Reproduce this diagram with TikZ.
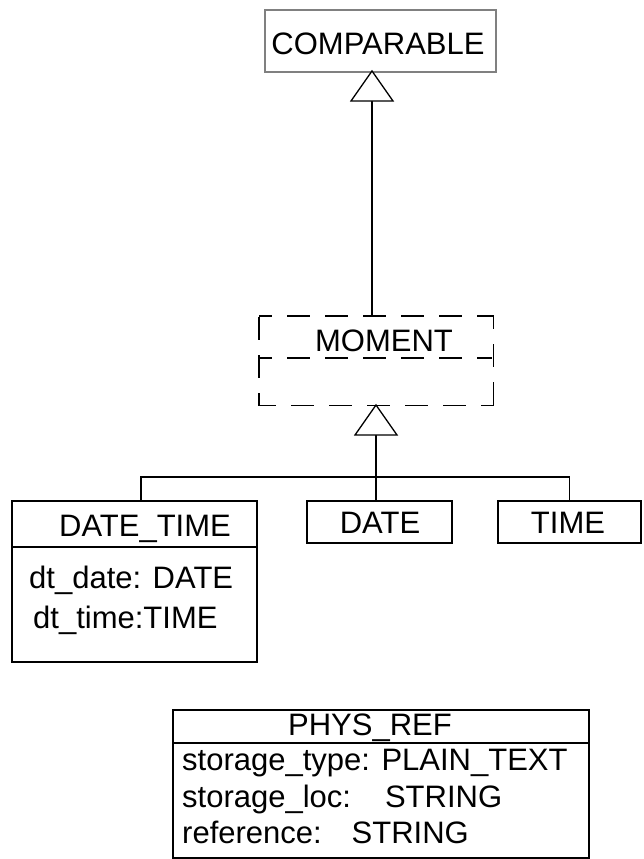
\documentclass[tikz,border=0pt]{standalone}
\usepackage{fontspec}
\setmainfont{Liberation Sans}
\definecolor{bordergray}{gray}{0.5}
\tikzset{
  box/.style={draw, line width=1.6pt, inner sep=0pt, anchor=north west},
  lbl/.style={font=\fontsize{31}{37}\selectfont, inner sep=0pt, anchor=base},
  lbll/.style={font=\fontsize{31}{37}\selectfont, inner sep=0pt, anchor=base west},
  conn/.style={line width=1.6pt},
  gen/.style={draw, line width=1.3pt, fill=white, line join=miter},
  dashbox/.style={line width=1.6pt, dash pattern=on 23pt off 15pt},
}
\begin{document}
\begin{tikzpicture}[x=1pt,y=-1pt]
\useasboundingbox (0,0) rectangle (644,859);

% COMPARABLE
\node[box, draw=bordergray, minimum width=231pt, minimum height=62pt] (cmp) at (264,9) {};
\node[lbl] (cmpt) at (378,55) {COMPARABLE};

% MOMENT (dashed)
\node[box, draw=none, minimum width=233pt, minimum height=88pt] (mom) at (259,316) {};
\draw[dashbox, dash phase=10pt] (mom.north west) -- (mom.north east);
\draw[dashbox, dash phase=10pt] (mom.north east) -- (mom.south east);
\draw[dashbox, dash phase=10pt] (mom.south east) -- (mom.south west);
\draw[dashbox, dash phase=10pt] (mom.south west) -- (mom.north west);
\coordinate (msepl) at (259,358);
\coordinate (msepr) at (492,358);
\draw[dashbox, dash phase=10pt] (msepl) -- (msepr);
\node[lbl] (momt) at (384,351) {MOMENT};

% generalization MOMENT -> COMPARABLE
\coordinate (ap1) at (372,71);
\coordinate (b1) at (372,101);
\draw[conn] (b1) -- (b1 |- mom.north);
\draw[gen] (ap1) -- ++(-21,30) -- ++(42,0) -- cycle;

% subclasses
\node[box, minimum width=245pt, minimum height=161pt] (dt) at (11,500) {};
\coordinate (dtsl) at (11,547);
\coordinate (dtsr) at (256,547);
\draw[conn] (dtsl) -- (dtsr);
\node[lbl] (dtt) at (145,536) {DATE\_TIME};
\node[lbll] (dta1) at (29,588) {dt\_date: DATE};
\node[lbll] (dta2) at (33,628) {dt\_time:TIME};

\node[box, minimum width=145pt, minimum height=42pt] (date) at (306,500) {};
\node[lbl] (datet) at (380,533) {DATE};

\node[box, minimum width=143pt, minimum height=42pt] (time) at (497,500) {};
\node[lbl] (timet) at (568,533) {TIME};

% generalization subclasses -> MOMENT
\coordinate (ap2) at (376,405);
\coordinate (b2) at (376,435);
\coordinate (bus) at (376,477);
\draw[conn] (b2) -- (bus);
\draw[conn] ([xshift=6.5pt]dt.north) |- (bus) -| (time.north);
\draw[conn] (bus) -- (bus |- date.north);
\draw[gen] (ap2) -- ++(-21,30) -- ++(42,0) -- cycle;

% PHYS_REF
\node[box, minimum width=416pt, minimum height=148pt] (pr) at (172,709) {};
\coordinate (prsl) at (172,743);
\coordinate (prsr) at (588,743);
\draw[conn] (prsl) -- (prsr);
\node[lbl] (prt) at (370,735) {PHYS\_REF};
\node[lbll] (pra1) at (182,770) {storage\_type: PLAIN\_TEXT};
\node[lbll] (pra2) at (182,807) {storage\_loc:\hspace{34pt}STRING};
\node[lbll] (pra3) at (182,843) {reference:\hspace{30pt}STRING};
\end{tikzpicture}
\end{document}
